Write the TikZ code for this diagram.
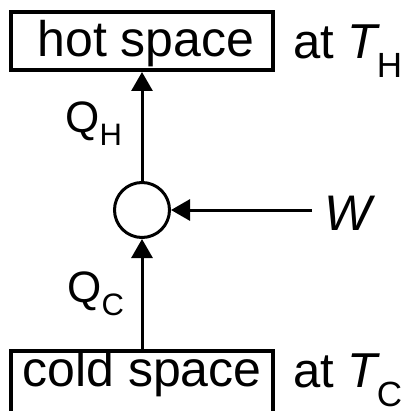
\documentclass[tikz,border=0pt]{standalone}
\usepackage{fontspec}
\setmainfont{Liberation Sans}
\usetikzlibrary{arrows.meta}

% lowered small index after a symbol: [drop]{size}{text}
\newcommand{\lowsub}[3][9.5pt]{\raisebox{-#1}{\fontsize{#2}{#2}\selectfont #3}}

\begin{document}
\begin{tikzpicture}[x=0.5pt,y=-0.5pt,
    font=\fontsize{25}{28}\selectfont,
    >={Triangle[length=9.5pt,width=10.5pt]},
    spacebox/.style={draw, line width=2pt, inner sep=0pt, minimum width=131pt},
    pumpcirc/.style={draw, circle, line width=1.5pt, inner sep=0pt, minimum size=27.5pt},
    lbl/.style={inner sep=0pt, anchor=base west},
    tlbl/.style={lbl, font=\fontsize{24.5}{28}\selectfont},
    qlbl/.style={lbl, font=\fontsize{22}{26}\selectfont},
    flow/.style={->, line width=1.5pt}]

    % picture frame, the cold box runs past the lower edge
    \useasboundingbox (0,0) rectangle (407,411);
    \clip (0,0) rectangle (407,411);

    % the two spaces
    \node[spacebox, text height=22.5pt, text depth=6.5pt] (hot) at (142,41) {\hspace{4pt}hot space};
    \node[spacebox, text height=17.5pt, text depth=17pt] (cold) at (142,385.5) {cold space};

    % temperatures
    \node[tlbl] (hotT) at (293,59) {at {\itshape T}\kern-0.5pt\lowsub{17.5}{H}};
    \node[tlbl] (coldT) at (293,387) {at {\itshape T}\kern-0.5pt\lowsub{17.5}{C}};

    % the machine in between
    \node[pumpcirc] (pump) at (142,210) {};
    \coordinate (work) at (312,210);

    % heat and work flows
    \draw[flow] (pump.north) -- (hot.south);
    \draw[flow] (cold.north) -- (pump.south);
    \draw[flow] (work) -- (pump.east);

    % flow labels
    \node[qlbl] (qhot) at (65,133) {Q\lowsub[6.5pt]{15.5}{H}};
    \node[qlbl] (qcold) at (67,302) {Q\lowsub[6.5pt]{15.5}{C}};
    \node[lbl] (wlab) at (324,230) {\textit{W}};

\end{tikzpicture}
\end{document}
